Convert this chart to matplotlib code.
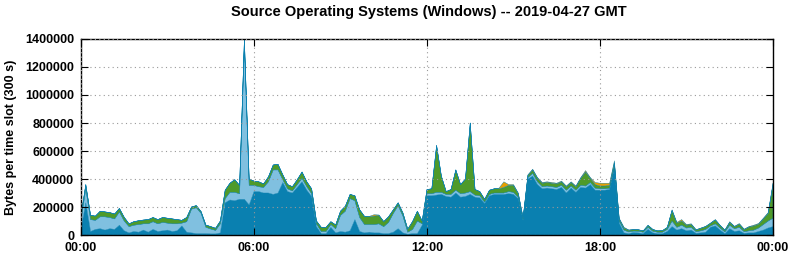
import numpy as np
import matplotlib
matplotlib.use('Agg')
import matplotlib.pyplot as plt

# Valores por ranura de 10 min (en miles de bytes)
dark_blue = [40, 230, 25, 40, 45, 35, 45, 40, 70, 30, 15, 25, 20, 35, 20, 40, 25, 30, 35, 25,
             30, 65, 20, 15, 10, 10, 10, 8, 8, 15, 230, 250, 245, 255, 255, 215, 310, 310, 300, 300,
             290, 300, 375, 310, 300, 340, 380, 320, 275, 60, 10, 10, 55, 15, 25, 20, 30, 110, 25, 15,
             20, 15, 15, 10, 10, 20, 45, 15, 5, 10, 10, 70, 280, 280, 285, 290, 275, 270, 300, 270,
             275, 290, 270, 265, 225, 280, 290, 290, 290, 295, 290, 260, 105, 400, 420, 360, 330, 335, 330, 325,
             340, 300, 335, 305, 340, 335, 360, 320, 320, 320, 325, 480, 85, 15, 10, 18, 15, 10, 40, 15,
             10, 10, 25, 60, 35, 45, 30, 35, 12, 15, 20, 55, 65, 35, 10, 45, 25, 30, 12, 15,
             15, 25, 35, 50, 60]
light_blue = [70, 100, 85, 65, 85, 95, 80, 75, 95, 70, 45, 45, 55, 45, 60, 55, 55, 60, 50, 55,
              50, 20, 75, 170, 185, 145, 45, 35, 25, 65, 30, 55, 60, 40, 1100, 140, 45, 35, 40, 80,
              175, 165, 20, 20, 15, 20, 25, 25, 20, 20, 15, 15, 20, 30, 115, 150, 230, 135, 100, 60,
              55, 60, 65, 50, 80, 135, 165, 120, 15, 30, 90, 10, 15, 15, 20, 15, 15, 20, 20, 25,
              25, 20, 15, 15, 10, 10, 10, 10, 10, 15, 15, 10, 5, 10, 20, 20, 15, 15, 15, 15,
              15, 20, 15, 15, 15, 15, 15, 15, 10, 10, 10, 10, 15, 20, 12, 10, 12, 10, 15, 12,
              10, 10, 15, 40, 20, 25, 20, 20, 12, 15, 20, 10, 15, 15, 12, 25, 20, 25, 12, 15,
              20, 25, 40, 50, 60]
green = [30, 30, 30, 30, 40, 35, 35, 35, 25, 26, 20, 25, 27, 27, 30, 30, 30, 35, 35, 35,
         30, 20, 30, 15, 15, 12, 16, 17, 15, 20, 60, 65, 90, 60, 45, 45, 30, 35, 25, 35,
         35, 40, 35, 30, 30, 35, 45, 35, 35, 20, 30, 30, 20, 27, 30, 35, 30, 35, 55, 58,
         55, 60, 60, 36, 40, 25, 20, 22, 20, 56, 70, 20, 30, 35, 335, 115, 20, 35, 145, 65,
         100, 490, 40, 30, 20, 30, 30, 30, 40, 45, 50, 25, 12, 15, 25, 25, 25, 25, 25, 25,
         25, 25, 25, 25, 50, 100, 30, 25, 20, 20, 20, 25, 15, 15, 12, 10, 10, 9, 13, 12,
         9, 11, 13, 75, 30, 30, 20, 20, 12, 18, 20, 18, 28, 18, 12, 20, 15, 22, 15, 27,
         30, 27, 40, 55, 240]
orange = [0] * 60 + [3, 10, 3, 0, 0, 0, 0, 0, 5, 0, 0, 0, 0, 0, 0, 0, 0, 0, 0, 0,
                     0, 0, 0, 0, 0, 0, 0, 5, 40, 5, 5, 5, 3, 5, 5, 5, 5, 5, 5, 5,
                     5, 5, 5, 5, 5, 10, 5, 15, 20, 20, 15, 15, 5, 5, 2, 2, 1, 1, 2, 1,
                     1, 1, 2, 5, 5, 10, 5, 5, 2, 2, 2, 2, 2, 2, 2, 5, 2, 5, 3, 3,
                     5, 5, 5, 5, 10]

horas = np.arange(len(dark_blue)) / 6.0
capas = [np.array(c) * 1000 for c in (dark_blue, light_blue, green, orange)]
colores = ['#0a80b0', '#80c0e0', '#4e9a2a', '#e69f00']

plt.rcParams['font.family'] = ['Liberation Sans', 'DejaVu Sans']
plt.rcParams['font.weight'] = 'bold'

fig = plt.figure(figsize=(7.95, 2.6), dpi=100)
ax = fig.add_axes([81 / 795, 1 - 235 / 260, 692 / 795, 196 / 260])
ax.stackplot(horas, *capas, colors=colores, linewidth=0.3, edgecolors=colores)

ax.set_xlim(0, 24)
ax.set_ylim(0, 1400000)
ax.set_xticks([0, 6, 12, 18, 24])
ax.set_xticklabels(['00:00', '06:00', '12:00', '18:00', '00:00'])
ax.set_yticks(np.arange(0, 1400001, 200000))
ax.set_yticklabels([str(v) for v in range(0, 1400001, 200000)])
ax.tick_params(direction='in', length=5, top=True, right=True, labelsize=9, pad=5)
ax.grid(True, linestyle=(0, (1, 3)), color='#999999', linewidth=0.8)
ax.set_axisbelow(False)
for s in ax.spines.values():
    s.set_linewidth(1.0)

ax.set_ylabel('Bytes per time slot (300 s)', fontsize=9, fontweight='bold', labelpad=6)
fig.text(0.54, 0.955, 'Source Operating Systems (Windows) -- 2019-04-27 GMT',
         ha='center', va='center', fontsize=10.5, fontweight='bold')

fig.savefig('out.png', dpi=100)
